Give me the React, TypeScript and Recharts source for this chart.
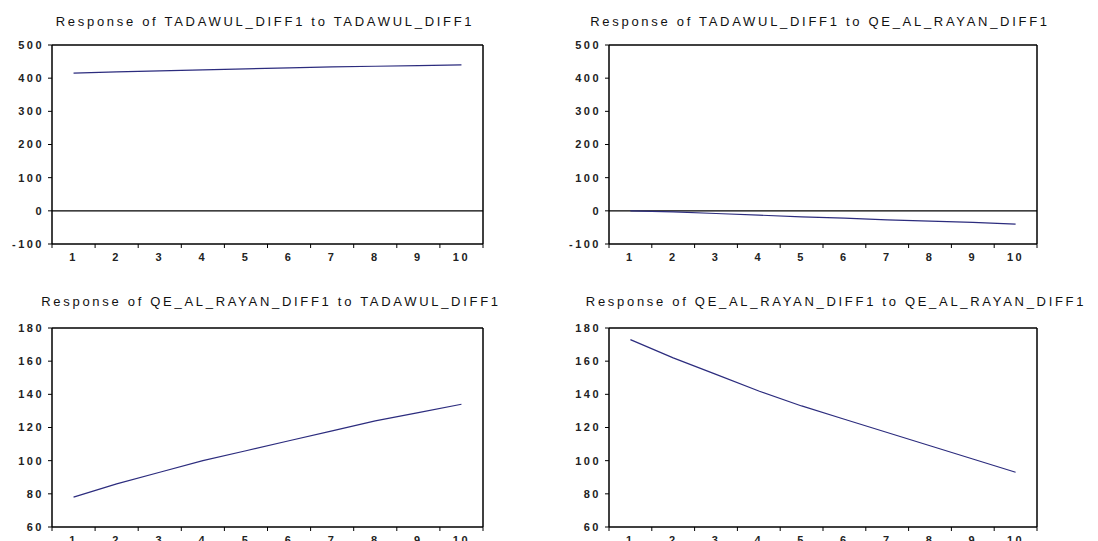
import { LineChart, Line, XAxis, YAxis, ReferenceLine } from 'recharts';

// impulse horizon
const periods = [1, 2, 3, 4, 5, 6, 7, 8, 9, 10];

// responses
const tadToTad = [415, 419, 422, 425, 428, 431, 434, 436, 438, 440];
const tadToQe = [0, -3, -8, -13, -18, -22, -27, -31, -35, -40];
const qeToTad = [78, 86, 93, 100, 106, 112, 118, 124, 129, 134];
const qeToQe = [173, 162, 152, 142, 133, 125, 117, 109, 101, 93];

const topTicks = [-100, 0, 100, 200, 300, 400, 500];
const bottomTicks = [60, 80, 100, 120, 140, 160, 180];
const bandEdges = [0.5, 1.5, 2.5, 3.5, 4.5, 5.5, 6.5, 7.5, 8.5, 9.5, 10.5];

const LINE_COLOR = '#2c2c7e';
const FONT = '"Liberation Sans", Arial, sans-serif';

const toRows = (values: number[]) => periods.map((p, i) => ({ period: p, value: values[i] }));

type PanelProps = {
  title: string;
  values: number[];
  ticks: number[];
  domain: [number, number];
  left: number;
  top: number;
  height: number;
  plotLeft: number;
  plotRight: number;
  marginTop: number;
  titleCenter: number;
  titleTop: number;
  zeroLine?: boolean;
};

const Panel = ({
  title, values, ticks, domain, left, top, height, plotLeft, plotRight,
  marginTop, titleCenter, titleTop, zeroLine,
}: PanelProps) => {
  const data = toRows(values);
  const tickStyle = { fontSize: 11, fill: '#222', fontFamily: FONT, fontWeight: 700, letterSpacing: 2.5 };
  const frame = { stroke: '#000', strokeWidth: 1.5 };
  return (
    <>
      <div
        style={{
          position: 'absolute', left: titleCenter - 300, top: titleTop, width: 600,
          textAlign: 'center', whiteSpace: 'nowrap', fontFamily: FONT, fontSize: 13,
          letterSpacing: 2.7, color: '#111', lineHeight: '14px',
        }}
      >
        {title}
      </div>
      <div style={{ position: 'absolute', left, top }}>
        <LineChart
          width={549}
          height={height}
          data={data}
          margin={{ top: marginTop - 1, right: 549 - plotRight - 1, left: 0, bottom: 0 }}
        >
          <XAxis
            xAxisId="edges"
            dataKey="period"
            type="number"
            domain={[0.5, 10.5]}
            ticks={bandEdges}
            tickFormatter={() => ''}
            height={1}
            tickSize={4}
            stroke="#000"
            axisLine={frame}
          />
          <XAxis
            xAxisId="labels"
            dataKey="period"
            type="number"
            domain={[0.5, 10.5]}
            ticks={periods}
            tickLine={false}
            axisLine={false}
            height={25}
            tickMargin={2}
            tick={tickStyle}
          />
          <XAxis
            xAxisId="top"
            orientation="top"
            dataKey="period"
            type="number"
            domain={[0.5, 10.5]}
            tick={false}
            tickLine={false}
            height={1}
            axisLine={frame}
          />
          <YAxis
            yAxisId="left"
            type="number"
            domain={domain}
            ticks={ticks}
            width={plotLeft}
            tickSize={4}
            tickMargin={4}
            tick={tickStyle}
            stroke="#000"
            axisLine={frame}
            interval={0}
          />
          <YAxis
            yAxisId="right"
            orientation="right"
            type="number"
            domain={domain}
            tick={false}
            tickLine={false}
            width={1}
            axisLine={frame}
          />
          {zeroLine && (
            <ReferenceLine y={0} xAxisId="labels" yAxisId="left" stroke="#000" strokeWidth={1.2} />
          )}
          {/* invisible series so the frame axes get drawn */}
          <Line xAxisId="edges" yAxisId="right" dataKey="value" stroke="none" dot={false} isAnimationActive={false} />
          <Line xAxisId="top" yAxisId="right" dataKey="value" stroke="none" dot={false} isAnimationActive={false} />
          <Line
            xAxisId="labels"
            yAxisId="left"
            type="linear"
            dataKey="value"
            stroke={LINE_COLOR}
            strokeWidth={1.2}
            dot={false}
            isAnimationActive={false}
          />
        </LineChart>
      </div>
    </>
  );
};

export default function App() {
  return (
    <div
      style={{
        position: 'absolute', left: 0, top: 0, width: 1098, height: 541,
        overflow: 'hidden', background: '#fff',
      }}
    >
      <Panel
        title="Response of TADAWUL_DIFF1 to TADAWUL_DIFF1"
        values={tadToTad}
        ticks={topTicks}
        domain={[-100, 500]}
        left={0}
        top={0}
        height={270}
        plotLeft={52}
        plotRight={483}
        marginTop={45}
        titleCenter={265}
        titleTop={15}
        zeroLine
      />
      <Panel
        title="Response of TADAWUL_DIFF1 to QE_AL_RAYAN_DIFF1"
        values={tadToQe}
        ticks={topTicks}
        domain={[-100, 500]}
        left={549}
        top={0}
        height={270}
        plotLeft={60}
        plotRight={488}
        marginTop={45}
        titleCenter={820}
        titleTop={15}
        zeroLine
      />
      <Panel
        title="Response of QE_AL_RAYAN_DIFF1 to TADAWUL_DIFF1"
        values={qeToTad}
        ticks={bottomTicks}
        domain={[60, 180]}
        left={0}
        top={270}
        height={283}
        plotLeft={52}
        plotRight={483}
        marginTop={58}
        titleCenter={271}
        titleTop={295}
      />
      <Panel
        title="Response of QE_AL_RAYAN_DIFF1 to QE_AL_RAYAN_DIFF1"
        values={qeToQe}
        ticks={bottomTicks}
        domain={[60, 180]}
        left={549}
        top={270}
        height={283}
        plotLeft={60}
        plotRight={488}
        marginTop={58}
        titleCenter={836}
        titleTop={295}
      />
    </div>
  );
}
